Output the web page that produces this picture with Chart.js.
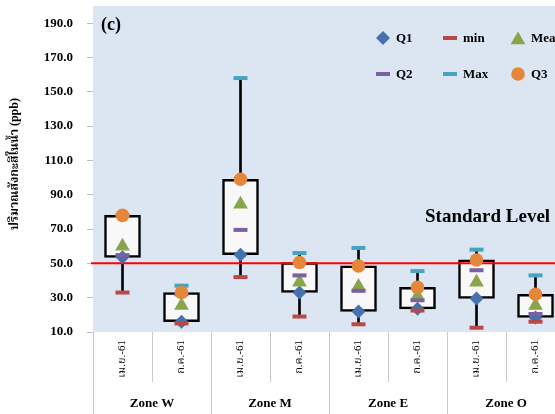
<!DOCTYPE html>
<html>
<head>
<meta charset="utf-8">
<script src="https://cdn.jsdelivr.net/npm/chart.js@4/dist/chart.umd.min.js"></script>
<style>
  html, body { margin: 0; padding: 0; background: #ffffff; overflow: hidden; }
  canvas { display: block; }
</style>
</head>
<body>
<canvas id="chart" width="565" height="414"></canvas>
<script>
// Zinc concentration in water (ppb), two sampling rounds per zone
const zones = ['Zone W', 'Zone M', 'Zone E', 'Zone O'];
const periods = ['เม.ย.-61', 'ก.ค.-61'];
const categories = zones.flatMap(() => periods);

const q1Values   = [53.5, 16,  55,   33,   22,   23.5, 29.5, 18.5];
const minValues  = [33,   15,  42,   19,   14.5, 22.5, 12.5, 16];
const meanValues = [60,   25.5, 84.5, 39,  36.5, 31,   39,   25.5];
const q2Values   = [54.8, 32,  69.5, 43,   34,   28.5, 46,   20.5];
const maxValues  = [78,   37,  158,  56,   59,   45.5, 58,   43];
const q3Values   = [78,   33,  99,   50.5, 48.5, 36,   52,   32];

const yTicks = [10, 30, 50, 70, 90, 110, 130, 150, 170, 190];
const yMin = 10;
const yMax = 200;
const standardLevel = 50;
const yTitle = 'ปริมาณสังกะสีในน้ำ (ppb)';

const SERIF = "'Liberation Serif', 'Times New Roman', 'Noto Serif Thai', 'Noto Sans Thai', serif";

const colors = {
  q1: '#4571ac',
  min: '#b94946',
  mean: '#88a54b',
  q2: '#7c60a0',
  max: '#47a3bf',
  q3: '#e5873b',
  plotBg: '#dce6f2',
  sep: '#c8c8c8'
};

function markerSet(label, data, color, style, radius, order, slot) {
  const isLine = style === 'line';
  return {
    type: 'line',
    label,
    data,
    showLine: false,
    order,
    legendSlot: slot,
    pointStyle: style,
    pointRadius: radius,
    pointHoverRadius: radius,
    pointBackgroundColor: color,
    pointBorderColor: color,
    pointBorderWidth: isLine ? 4 : 0,
    backgroundColor: color,
    borderColor: color
  };
}

const datasets = [
  {
    type: 'bar', label: 'whisker',
    data: minValues.map((v, i) => [v, maxValues[i]]),
    backgroundColor: '#000000', barThickness: 2, grouped: false, order: 20
  },
  {
    type: 'bar', label: 'box',
    data: q1Values.map((v, i) => [v, q3Values[i]]),
    backgroundColor: '#f8f8f8', borderColor: '#000000', borderWidth: 2.5,
    borderSkipped: false, barThickness: 36, grouped: false, order: 19
  },
  markerSet('Q1',   q1Values,   colors.q1,   'rectRot',  7,   6, 0),
  markerSet('min',  minValues,  colors.min,  'line',     7,   5, 1),
  markerSet('Mean', meanValues, colors.mean, 'triangle', 8.5, 4, 2),
  markerSet('Q2',   q2Values,   colors.q2,   'line',     7,   3, 3),
  markerSet('Max',  maxValues,  colors.max,  'line',     7,   2, 4),
  markerSet('Q3',   q3Values,   colors.q3,   'circle',   6.8, 1, 5)
];

// light-blue plot area
const plotBackground = {
  id: 'plotBackground',
  beforeDraw(chart) {
    const { ctx, chartArea: a } = chart;
    ctx.save();
    ctx.fillStyle = colors.plotBg;
    ctx.fillRect(a.left, a.top, a.right - a.left, a.bottom - a.top);
    ctx.restore();
  }
};

// red standard line, drawn over the boxes and under the markers
const standardLine = {
  id: 'standardLine',
  afterDatasetDraw(chart, args) {
    if (chart.data.datasets[args.index].label !== 'box') return;
    const { ctx, chartArea: a, scales } = chart;
    const y = scales.y.getPixelForValue(standardLevel);
    ctx.save();
    ctx.strokeStyle = '#ff0000';
    ctx.lineWidth = 2;
    ctx.beginPath();
    ctx.moveTo(a.left - 2, y);
    ctx.lineTo(a.right, y);
    ctx.stroke();
    ctx.restore();
  }
};

// category separators, zone labels, axis title, panel tag, legend
const decorations = {
  id: 'decorations',
  afterDraw(chart) {
    const { ctx, chartArea: a, scales } = chart;
    const x = scales.x;
    const step = x.getPixelForValue(1) - x.getPixelForValue(0);
    const H = chart.height;
    ctx.save();

    // separators below the plot
    ctx.strokeStyle = colors.sep;
    ctx.lineWidth = 1;
    for (let i = 0; i < categories.length; i++) {
      const left = Math.round(x.getPixelForValue(i) - step / 2) + 0.5;
      const groupEdge = i % periods.length === 0;
      ctx.beginPath();
      ctx.moveTo(left, a.bottom);
      ctx.lineTo(left, groupEdge ? H : a.bottom + 50);
      ctx.stroke();
    }

    // zone names
    ctx.fillStyle = '#000';
    ctx.font = 'bold 13px ' + SERIF;
    ctx.textAlign = 'center';
    ctx.textBaseline = 'middle';
    zones.forEach((z, g) => {
      const i0 = g * periods.length;
      const cx = (x.getPixelForValue(i0) + x.getPixelForValue(i0 + periods.length - 1)) / 2;
      ctx.fillText(z, cx, a.bottom + 72);
    });

    // y axis title
    ctx.save();
    ctx.translate(15, (a.top + a.bottom) / 2 - 5);
    ctx.rotate(-Math.PI / 2);
    ctx.font = 'bold 12px ' + SERIF;
    ctx.fillText(yTitle, 0, 0);
    ctx.restore();

    // panel tag
    ctx.textAlign = 'left';
    ctx.textBaseline = 'alphabetic';
    ctx.font = 'bold 18px ' + SERIF;
    ctx.fillText('(c)', a.left + 8, a.top + 24);

    // standard level note
    ctx.font = 'bold 19px ' + SERIF;
    ctx.fillText('Standard Level', a.left + 332, scales.y.getPixelForValue(standardLevel) - 41);

    // legend: 3 columns x 2 rows inside the plot
    const colX = [a.right - 182, a.right - 115, a.right - 47];
    const rowY = [a.top + 32, a.top + 68];
    ctx.font = 'bold 13px ' + SERIF;
    ctx.textBaseline = 'middle';
    chart.data.datasets.forEach(ds => {
      if (ds.legendSlot == null) return;
      const cx = colX[ds.legendSlot % 3];
      const cy = rowY[Math.floor(ds.legendSlot / 3)];
      ctx.save();
      ctx.fillStyle = ds.pointBackgroundColor;
      ctx.strokeStyle = ds.pointBorderColor;
      ctx.lineWidth = ds.pointBorderWidth;
      Chart.helpers.drawPoint(ctx, {
        pointStyle: ds.pointStyle,
        radius: ds.pointRadius,
        rotation: 0,
        borderWidth: ds.pointBorderWidth
      }, cx, ds.pointStyle === 'triangle' ? cy + 2 : cy);
      ctx.restore();
      ctx.fillStyle = '#000';
      ctx.fillText(ds.label, cx + 13, cy + 1);
    });

    ctx.restore();
  }
};

new Chart(document.getElementById('chart'), {
  type: 'bar',
  data: { labels: categories, datasets },
  options: {
    responsive: false,
    animation: false,
    devicePixelRatio: 1,
    layout: { autoPadding: false, padding: { top: 6, right: 0, left: 0, bottom: 0 } },
    plugins: {
      legend: { display: false },
      tooltip: { enabled: false }
    },
    scales: {
      x: {
        grid: { display: false },
        border: { display: false },
        ticks: {
          autoSkip: false, minRotation: 90, maxRotation: 90, padding: 0,
          color: '#000', font: { family: SERIF, size: 11 }
        },
        afterFit(s) {
          s.height = 82;
          s.paddingLeft = 0; s.paddingRight = 0; s.paddingTop = 0; s.paddingBottom = 0;
        }
      },
      y: {
        min: yMin,
        max: yMax,
        afterBuildTicks(s) { s.ticks = yTicks.map(v => ({ value: v })); },
        ticks: {
          padding: 14, color: '#000',
          font: { family: SERIF, size: 13, weight: 'bold' },
          callback: v => Number(v).toFixed(1)
        },
        grid: { drawOnChartArea: false, drawTicks: true, tickLength: 6, color: '#bfbfbf' },
        border: { display: false },
        afterFit(s) {
          s.width = 93;
          s.paddingLeft = 0; s.paddingRight = 0; s.paddingTop = 0; s.paddingBottom = 0;
        }
      }
    }
  },
  plugins: [plotBackground, standardLine, decorations]
});
</script>
</body>
</html>
